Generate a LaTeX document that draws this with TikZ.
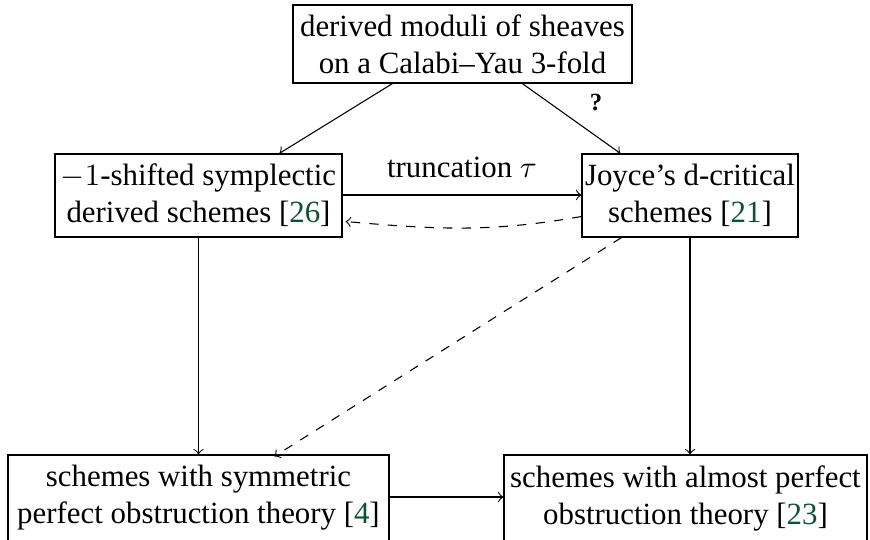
\documentclass[tikz,border=0pt]{standalone}
\usepackage{fontspec}
\setmainfont{Liberation Serif}
\usetikzlibrary{calc,arrows}
\definecolor{citegreen}{RGB}{10,85,45}
\newcommand{\cit}[1]{[\textcolor{citegreen}{#1}]}
\newdimen\pxu \pxu=0.324pt
\tikzset{
  box/.style={draw, line width=0.4pt, align=center, inner sep=0pt},
  arr/.style={->, line width=0.35pt},
}
\begin{document}
\begin{tikzpicture}[x=0.324pt,y=0.324pt]
\useasboundingbox (0,0) rectangle (870,-539);
\node[box, minimum width=339\pxu, minimum height=78\pxu] (top) at (462.5,-44) {derived moduli of sheaves\\on a Calabi--Yau 3-fold};
\node[box, minimum width=287\pxu, minimum height=83\pxu] (lm) at (198.5,-195.5) {$-1$-shifted symplectic\\derived schemes \cit{26}};
\node[box, minimum width=216\pxu, minimum height=83\pxu] (rm) at (690,-195.5) {Joyce's d-critical\\schemes \cit{21}};
\node[box, minimum width=381\pxu, minimum height=86\pxu] (lb) at (198.5,-498) {schemes with symmetric\\perfect obstruction theory \cit{4}};
\node[box, minimum width=363\pxu, minimum height=86\pxu] (rb) at (685.5,-498) {schemes with almost perfect\\obstruction theory \cit{23}};
\draw[arr] ($(top.south west)+(100,0)$) -- ($(lm.north west)+(225,0)$);
\draw[arr] ($(top.south west)+(230,0)$) -- node[above right, xshift=2.5pt, yshift=-1pt, font=\footnotesize\bfseries] (q) {?} ($(rm.north west)+(39,0)$);
\draw[arr] (lm.east |- 0,-195) -- node[above=2pt] (tl) {truncation $\tau$} (rm.west |- 0,-195);
\draw[arr, dashed] ($(rm.west)+(0,-21)$) to[out=190,in=-5] ($(lm.east)+(3,-26)$);
\draw[arr] (lm.south) -- (lb.north);
\draw[arr] (rm.south) -- (rm.south |- lb.north);
\draw[arr, dashed] ($(rm.south west)+(40,0)$) -- ($(lb.north west)+(267,-2)$);
\draw[arr] (lb.east |- 0,-497) -- (rb.west |- 0,-497);
\end{tikzpicture}
\end{document}
